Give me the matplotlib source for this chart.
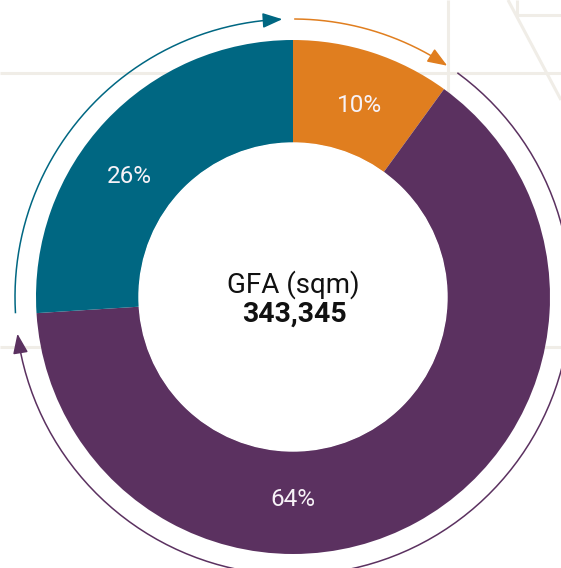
import numpy as np
import matplotlib
matplotlib.use("Agg")
import matplotlib.pyplot as plt

# data
segments = ["Orange", "Purple", "Teal"]
shares = [10, 64, 26]
colors = ["#E07E1F", "#5B3160", "#006782"]
total_label = "GFA (sqm)"
total_value = "343,345"

# label placement (degrees clockwise from top)
label_angles = [19, 180, 306.5]
label_radius = 203

W, H = 561, 568
cx, cy = 293, H - 297
R_out, R_in = 257, 154
R_arc = 278

plt.rcParams['font.family'] = ['Roboto', 'DejaVu Sans']

fig = plt.figure(figsize=(W / 100, H / 100), dpi=100)
ax = fig.add_axes([0, 0, 1, 1])
ax.set_xlim(0, W)
ax.set_ylim(0, H)
ax.set_aspect('equal')
ax.axis('off')

# faint map lines in the background
bg = "#F0EDE7"
bg_lines = [
    ([0, W], [73, 73]),
    ([0, W], [347, 347]),
    ([448, 448], [0, 297]),
    ([508, 561], [0, 100]),
    ([517, 517], [0, 15]),
    ([517, W], [15, 15]),
]
for xs, ys in bg_lines:
    ax.plot(xs, [H - y for y in ys], color=bg, lw=2.2, zorder=0, solid_capstyle='butt')

wedges, _ = ax.pie(shares, colors=colors, startangle=90, counterclock=False,
                   radius=R_out, center=(cx, cy),
                   wedgeprops=dict(width=R_out - R_in, linewidth=0))
for w in wedges:
    w.set_zorder(2)
ax.add_patch(plt.Circle((cx, cy), R_in, color="white", zorder=2))
ax.set_xlim(0, W)
ax.set_ylim(0, H)


def pt(theta, r):
    t = np.radians(theta)
    return cx + r * np.sin(t), cy + r * np.cos(t)


# arrows around the ring, one per segment, clockwise
bounds = np.concatenate([[0], np.cumsum(shares)]) / 100 * 360
gaps = [2.3, 4.0, 2.2]
for i, col in enumerate(colors):
    a0 = bounds[i] + 0.4
    a1 = bounds[i + 1] - gaps[i]
    th = np.linspace(a0, a1 - 2.5, 200)
    x, y = pt(th, R_arc)
    ax.plot(x, y, color=col, lw=1.1, zorder=3, clip_on=False)
    ax.annotate("", xy=pt(a1, R_arc), xytext=pt(a1 - 3.0, R_arc),
                arrowprops=dict(arrowstyle="-|>,head_length=1.1,head_width=0.42",
                                mutation_scale=11, color=col, lw=1.1,
                                shrinkA=0, shrinkB=0), zorder=3)

for v, ang in zip(shares, label_angles):
    x, y = pt(ang, label_radius)
    ax.text(x, y, f"{v}%", color="#F7F2F7", fontsize=17.5, fontweight='normal',
            ha='center', va='center', zorder=4)

ax.text(293, H - 285, total_label, fontsize=20, ha='center', va='center',
        color="#111111", zorder=4)
ax.text(295, H - 314, total_value, fontsize=20.5, fontweight='bold',
        ha='center', va='center', color="#111111", zorder=4)

fig.savefig("out.png", dpi=100)
